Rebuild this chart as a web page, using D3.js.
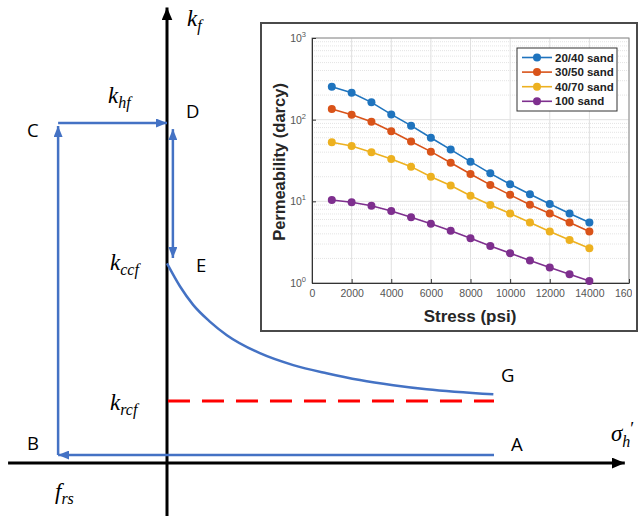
<!DOCTYPE html>
<html><head><meta charset="utf-8">
<script src="https://cdn.jsdelivr.net/npm/d3@7"></script>
<style>
html,body{margin:0;padding:0;background:#fff;}
svg{display:block;}
</style></head>
<body>
<svg id="chart" width="644" height="516"></svg>
<script>
// ---------- Inset data ----------
const stress = [1000,2000,3000,4000,5000,6000,7000,8000,9000,10000,11000,12000,13000,14000];
const seriesNames = ["20/40 sand","30/50 sand","40/70 sand","100 sand"];
const perm2040 = [253,214,163,116,84.5,60,43,30.6,22,16.2,12.2,9.3,7.1,5.5];
const perm3050 = [135,115,94,72,54,40.6,29.7,21.6,15.9,12,9.1,7.1,5.5,4.27];
const perm4070 = [53,47.6,40,33,26.6,20,15.6,11.7,9.0,7.1,5.5,4.27,3.37,2.67];
const perm100  = [10.4,9.75,8.85,7.6,6.4,5.3,4.35,3.53,2.84,2.32,1.88,1.55,1.28,1.06];
const seriesColors = ["#1f74be","#d95319","#edb120","#7e2f8e"];
const xTicks = [0,2000,4000,6000,8000,10000,12000,14000,16000];
const yTicks = [1,10,100,1000];
const yTickExp = ["0","1","2","3"];

// ---------- Schematic data (normalised units) ----------
const curveStress = [0,0.04,0.08,0.131,0.183,0.284,0.386,0.488,0.59,0.692,0.794,0.998];
const curveK      = [0.587,0.519,0.465,0.416,0.376,0.323,0.288,0.264,0.244,0.229,0.217,0.202];
const kHf = 1.0, kCcfTop = 0.982, kCcf = 0.603, kRcf = 0.182, kBase = 0.0235;
const fRs = -0.333, sigmaEnd = 1.0;

const svg = d3.select("#chart");
const BLUE = "#4472c4";

// schematic scales
const sx = d3.scaleLinear().domain([0,1]).range([167,494]);
const sy = d3.scaleLinear().domain([0,1]).range([463,123]);

const defs = svg.append("defs");
function marker(id, color, len, half){
  defs.append("marker").attr("id",id).attr("viewBox",`0 ${-half} ${len} ${2*half}`)
    .attr("refX",len).attr("refY",0).attr("markerWidth",len).attr("markerHeight",2*half)
    .attr("markerUnits","userSpaceOnUse").attr("orient","auto-start-reverse")
    .append("path").attr("d",`M0,${-half}L${len},0L0,${half}Z`).attr("fill",color);
}
marker("blueArrow", BLUE, 11, 4.5);
marker("blackArrow", "#000", 13, 5.5);

// ---------- Inset ----------
const inset = svg.append("g");
inset.append("rect").attr("x",261).attr("y",23).attr("width",376).attr("height",308)
  .attr("fill","#fff").attr("stroke","#4a4a4a").attr("stroke-width",2);

const ix = d3.scaleLinear().domain([0,16000]).range([312,629]);
const iy = d3.scaleLog().domain([1,1000]).range([283,38]);

defs.append("clipPath").attr("id","insetClip").append("rect")
  .attr("x",262).attr("y",24).attr("width",370).attr("height",306);
const ig = inset.append("g").attr("clip-path","url(#insetClip)");

// minor grid
const minor = [];
for (let d=1; d<1000; d*=10) for (let m=2; m<=9; m++) minor.push(d*m);
ig.append("g").selectAll("line").data(minor).join("line")
  .attr("x1",ix(0)).attr("x2",ix(16000)).attr("y1",d=>iy(d)).attr("y2",d=>iy(d))
  .attr("stroke","#e4e4e4").attr("stroke-width",1).attr("stroke-dasharray","1,1");
// major grid
ig.append("g").selectAll("line").data(yTicks).join("line")
  .attr("x1",ix(0)).attr("x2",ix(16000)).attr("y1",d=>iy(d)).attr("y2",d=>iy(d))
  .attr("stroke","#e0e0e0").attr("stroke-width",1);
ig.append("g").selectAll("line").data(xTicks).join("line")
  .attr("y1",iy(1)).attr("y2",iy(1000)).attr("x1",d=>ix(d)).attr("x2",d=>ix(d))
  .attr("stroke","#e0e0e0").attr("stroke-width",1);
// box
ig.append("rect").attr("x",ix(0)).attr("y",iy(1000)).attr("width",ix(16000)-ix(0)).attr("height",iy(1)-iy(1000))
  .attr("fill","none").attr("stroke","#8a8a8a").attr("stroke-width",1);

// axes
const xAxis = d3.axisBottom(ix).tickValues(xTicks).tickSizeInner(-4).tickSizeOuter(0).tickPadding(7)
  .tickFormat(d3.format("d"));
const gx = ig.append("g").attr("transform",`translate(0,${iy(1)})`).call(xAxis);
gx.select(".domain").attr("stroke","#333");
gx.selectAll(".tick line").attr("stroke","#333");
gx.selectAll("text").attr("fill","#555").attr("font-size",10.5).attr("font-family","Liberation Sans, Arial, sans-serif");

const yAxis = d3.axisLeft(iy).tickValues(yTicks).tickSizeInner(-4).tickSizeOuter(0).tickPadding(6)
  .tickFormat(()=> "");
const gy = ig.append("g").attr("transform",`translate(${ix(0)},0)`).call(yAxis);
gy.select(".domain").attr("stroke","#333");
gy.selectAll(".tick line").attr("stroke","#333");
gy.selectAll(".tick text").each(function(d,i){
  const t = d3.select(this).attr("fill","#555").attr("font-size",10.5)
    .attr("font-family","Liberation Sans, Arial, sans-serif").attr("x",-6);
  t.text("10");
  t.append("tspan").attr("dy",-5).attr("font-size",7.5).text(yTickExp[i]);
});

// series
const allSeries = [perm2040, perm3050, perm4070, perm100];
const line = d3.line().x((d,i)=>ix(stress[i])).y(d=>iy(d));
allSeries.forEach((vals,si)=>{
  const g = ig.append("g");
  g.append("path").datum(vals).attr("d",line).attr("fill","none")
    .attr("stroke",seriesColors[si]).attr("stroke-width",1.6);
  g.selectAll("circle").data(vals).join("circle")
    .attr("cx",(d,i)=>ix(stress[i])).attr("cy",d=>iy(d)).attr("r",4)
    .attr("fill",seriesColors[si]);
});

// legend
const lg = ig.append("g");
lg.append("rect").attr("x",517).attr("y",48).attr("width",100).attr("height",63)
  .attr("fill","#fff").attr("stroke","#333").attr("stroke-width",1);
seriesNames.forEach((n,i)=>{
  const y = 57.5 + i*14.6;
  lg.append("line").attr("x1",522).attr("x2",552).attr("y1",y).attr("y2",y)
    .attr("stroke",seriesColors[i]).attr("stroke-width",1.6);
  lg.append("circle").attr("cx",537).attr("cy",y).attr("r",4).attr("fill",seriesColors[i]);
  lg.append("text").attr("x",555).attr("y",y+4).text(n)
    .attr("font-family","Liberation Sans, Arial, sans-serif").attr("font-weight","bold")
    .attr("font-size",11.5).attr("fill","#222");
});

// axis labels
inset.append("text").attr("transform","translate(285,162) rotate(-90)")
  .attr("text-anchor","middle").text("Permeability (darcy)")
  .attr("font-family","Liberation Sans, Arial, sans-serif").attr("font-weight","bold")
  .attr("font-size",16.5).attr("fill","#262626");
inset.append("text").attr("x",470).attr("y",322).attr("text-anchor","middle").text("Stress (psi)")
  .attr("font-family","Liberation Sans, Arial, sans-serif").attr("font-weight","bold")
  .attr("font-size",17).attr("fill","#262626");

// ---------- Schematic ----------
const sch = svg.append("g");
// axes
sch.append("line").attr("x1",sx(0)).attr("x2",sx(0)).attr("y1",516).attr("y2",sy(1.34))
  .attr("stroke","#000").attr("stroke-width",3).attr("marker-end","url(#blackArrow)");
sch.append("line").attr("x1",sx(-0.486)).attr("x2",sx(1.4)).attr("y1",sy(0)).attr("y2",sy(0))
  .attr("stroke","#000").attr("stroke-width",3).attr("marker-end","url(#blackArrow)");

// A -> B
sch.append("line").attr("x1",sx(sigmaEnd)).attr("x2",sx(fRs)).attr("y1",sy(kBase)).attr("y2",sy(kBase))
  .attr("stroke",BLUE).attr("stroke-width",2.5).attr("marker-end","url(#blueArrow)");
// B -> C
sch.append("line").attr("x1",sx(fRs)).attr("x2",sx(fRs)).attr("y1",sy(kBase)).attr("y2",sy(kHf-0.009))
  .attr("stroke",BLUE).attr("stroke-width",2.5).attr("marker-end","url(#blueArrow)");
// C -> D
sch.append("line").attr("x1",sx(fRs)).attr("x2",sx(0)).attr("y1",sy(kHf)).attr("y2",sy(kHf))
  .attr("stroke",BLUE).attr("stroke-width",2.5).attr("marker-end","url(#blueArrow)");
// D <-> E
sch.append("line").attr("x1",sx(0.018)).attr("x2",sx(0.018)).attr("y1",sy(kCcfTop)).attr("y2",sy(kCcf))
  .attr("stroke",BLUE).attr("stroke-width",2.5)
  .attr("marker-start","url(#blueArrow)").attr("marker-end","url(#blueArrow)");
// E -> G curve
const curvePts = curveStress.map((s,i)=>[sx(s), sy(curveK[i])]);
sch.append("path").attr("d", d3.line().curve(d3.curveMonotoneX)(curvePts))
  .attr("fill","none").attr("stroke",BLUE).attr("stroke-width",2.5);
// k_rcf dashed
sch.append("line").attr("x1",sx(0.003)).attr("x2",sx(sigmaEnd)).attr("y1",sy(kRcf)).attr("y2",sy(kRcf))
  .attr("stroke","#ff0000").attr("stroke-width",3).attr("stroke-dasharray","22,12");

// letters
const letterFont = "Open Sans, Liberation Sans, sans-serif";
[["C",27,137],["D",186,118],["E",196,272],["G",501,382],["A",511,451],["B",27,450]].forEach(([t,x,y])=>{
  sch.append("text").attr("x",x).attr("y",y).text(t).attr("font-family",letterFont)
    .attr("font-size",18.5).attr("fill","#000");
});

// math labels
function mathLabel(x,y,main,sub){
  const t = sch.append("text").attr("x",x).attr("y",y)
    .attr("font-family","Liberation Serif, DejaVu Serif, serif").attr("font-style","italic")
    .attr("font-size",23).attr("fill","#000");
  t.append("tspan").text(main);
  t.append("tspan").attr("dy",5).attr("font-size",16).text(sub);
}
mathLabel(187,26,"k","f");
mathLabel(108,103,"k","hf");
mathLabel(110,270,"k","ccf");
mathLabel(110,410,"k","rcf");
mathLabel(55,499,"f","rs");
// sigma'_h as one text element (subscript h, then prime)
const sgt = sch.append("text").attr("x",611).attr("y",441)
  .attr("font-family","Liberation Serif, DejaVu Serif, serif").attr("fill","#000");
sgt.append("tspan").attr("font-style","italic").attr("font-size",23).text("σ");
sgt.append("tspan").attr("font-style","italic").attr("font-size",16).attr("dy",6).text("h");
sgt.append("tspan").attr("font-size",18).attr("dx",0).attr("dy",-12).text("′");
</script>
</body></html>
